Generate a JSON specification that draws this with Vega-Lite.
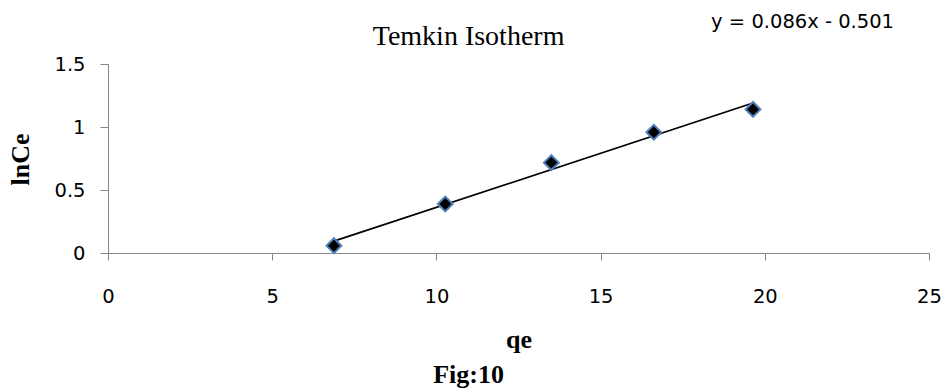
{
  "$schema": "https://vega.github.io/schema/vega-lite/v6.json",
  "width": 821,
  "height": 189,
  "autosize": {"type": "none"},
  "padding": {"left": 108, "top": 64, "right": 15, "bottom": 139},
  "background": "white",
  "config": {
    "view": {"stroke": null},
    "axis": {
      "grid": false,
      "labelFlush": false,
      "labelOverlap": false,
      "domainColor": "#868686",
      "tickColor": "#868686",
      "labelFont": "DejaVu Sans",
      "labelFontSize": 19.5,
      "labelColor": "black",
      "titleFont": "Liberation Serif",
      "titleFontSize": 26,
      "titleFontWeight": "bold",
      "titleColor": "black"
    }
  },
  "layer": [
    {
      "data": {
        "values": [
          {"qe": 6.88, "lnCe": 0.058},
          {"qe": 10.27, "lnCe": 0.389},
          {"qe": 13.5, "lnCe": 0.717},
          {"qe": 16.62, "lnCe": 0.958},
          {"qe": 19.64, "lnCe": 1.14}
        ]
      },
      "encoding": {
        "x": {
          "field": "qe",
          "type": "quantitative",
          "scale": {"domain": [0, 25], "nice": false},
          "axis": {
            "values": [0, 5, 10, 15, 20, 25],
            "tickSize": 7,
            "labelPadding": 27,
            "title": "qe",
            "titleBaseline": "alphabetic",
            "titleY": 94,
            "titleX": 410.5,
            "titleAlign": "center"
          }
        },
        "y": {
          "field": "lnCe",
          "type": "quantitative",
          "scale": {"domain": [0, 1.5], "nice": false},
          "axis": {
            "values": [0, 0.5, 1, 1.5],
            "format": "~g",
            "tickSize": 8,
            "labelPadding": 15,
            "title": "lnCe",
            "titleAngle": -90,
            "titleBaseline": "alphabetic",
            "titleAlign": "center",
            "titleX": -80,
            "titleY": 95
          }
        }
      },
      "layer": [
        {
          "transform": [{"regression": "lnCe", "on": "qe"}],
          "mark": {"type": "line", "color": "black", "strokeWidth": 1.75}
        },
        {
          "mark": {
            "type": "point",
            "shape": "diamond",
            "filled": true,
            "fill": "black",
            "stroke": "#4f81bd",
            "strokeWidth": 2,
            "size": 220,
            "opacity": 1
          }
        }
      ]
    },
    {
      "data": {"values": [{"note": "Temkin Isotherm"}]},
      "mark": {
        "type": "text",
        "font": "Liberation Serif",
        "fontSize": 28,
        "fill": "black",
        "align": "center",
        "baseline": "alphabetic",
        "clip": false
      },
      "encoding": {
        "x": {"datum": 10.98, "type": "quantitative"},
        "y": {"datum": 1.651, "type": "quantitative"},
        "text": {"field": "note", "type": "nominal"}
      }
    },
    {
      "data": {"values": [{"note": "y = 0.086x - 0.501"}]},
      "mark": {
        "type": "text",
        "font": "DejaVu Sans",
        "fontSize": 19.5,
        "fill": "black",
        "align": "center",
        "baseline": "alphabetic",
        "clip": false
      },
      "encoding": {
        "x": {"datum": 21.15, "type": "quantitative"},
        "y": {"datum": 1.786, "type": "quantitative"},
        "text": {"field": "note", "type": "nominal"}
      }
    },
    {
      "data": {"values": [{"note": "Fig:10"}]},
      "mark": {
        "type": "text",
        "font": "Liberation Serif",
        "fontSize": 26,
        "fontWeight": "bold",
        "fill": "black",
        "align": "center",
        "baseline": "alphabetic",
        "clip": false
      },
      "encoding": {
        "x": {"datum": 10.98, "type": "quantitative"},
        "y": {"datum": -1.032, "type": "quantitative"},
        "text": {"field": "note", "type": "nominal"}
      }
    }
  ]
}
